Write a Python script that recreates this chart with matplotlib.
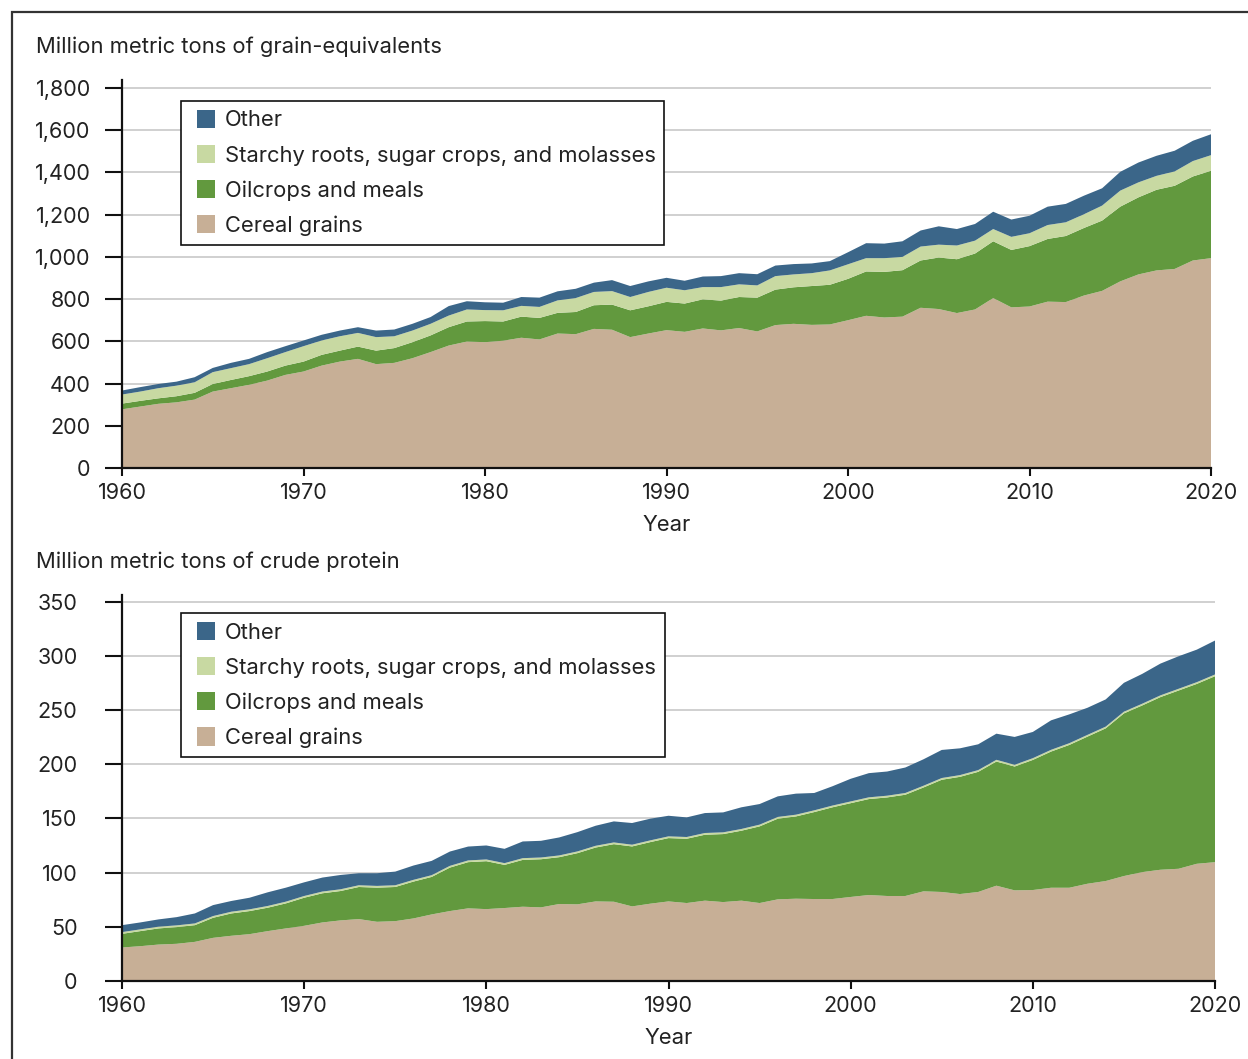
import numpy as np
import matplotlib
matplotlib.use("Agg")
import matplotlib.pyplot as plt
from matplotlib.patches import Patch, Rectangle
from matplotlib.legend_handler import HandlerPatch

plt.rcParams["font.family"] = ["Inter", "DejaVu Sans"]

years = list(range(1960, 2021))

# Grain-equivalents (million metric tons), per layer
grain_cereal = [278, 291, 304, 311, 324, 362, 378, 394, 414, 441,
                457, 485, 504, 517, 492, 498, 520, 549, 580, 599,
                596, 603, 617, 609, 637, 634, 659, 655, 620, 637,
                653, 645, 661, 652, 663, 647, 677, 683, 678, 680,
                700, 721, 713, 717, 759, 753, 734, 751, 805, 761,
                765, 788, 786, 817, 839, 884, 917, 936, 943, 983, 994]
grain_oil = [27, 27, 26, 29, 32, 36, 39, 41, 43, 44,
             47, 51, 52, 58, 64, 70, 76, 79, 87, 95,
             100, 91, 100, 102, 98, 105, 112, 119, 127, 129,
             134, 134, 138, 141, 147, 160, 168, 173, 184, 188,
             196, 210, 216, 220, 224, 244, 255, 265, 269, 272,
             286, 297, 313, 320, 333, 354, 365, 382, 394, 398, 414]
grain_starchy = [43, 44, 48, 50, 50, 56, 56, 57, 63, 64,
                 73, 68, 68, 65, 64, 56, 55, 55, 55, 57,
                 52, 53, 51, 52, 59, 66, 63, 64, 63, 68,
                 67, 63, 58, 64, 60, 58, 64, 61, 61, 68,
                 69, 63, 65, 63, 66, 61, 65, 61, 58, 62,
                 61, 66, 65, 65, 71, 76, 71, 66, 68, 73, 74]
grain_other = [19, 21, 20, 19, 24, 20, 25, 25, 29, 28,
               27, 27, 27, 27, 31, 32, 32, 32, 45, 39,
               37, 36, 42, 44, 43, 44, 44, 52, 52, 50,
               47, 45, 50, 52, 53, 53, 50, 49, 46, 44,
               57, 71, 69, 74, 76, 87, 78, 79, 82, 82,
               83, 87, 87, 88, 82, 89, 94, 95, 98, 96, 99]

# Crude protein (million metric tons), per layer
prot_cereal = [30.9, 32.1, 33.6, 34.3, 36.1, 39.8, 41.7, 43.2, 46.0, 48.5,
               50.9, 54.0, 55.9, 57.1, 54.6, 55.2, 57.7, 61.4, 64.5, 67.0,
               66.3, 67.3, 68.5, 67.9, 71.0, 70.7, 73.4, 73.1, 68.8, 71.3,
               73.4, 71.9, 74.1, 72.8, 74.1, 71.9, 75.3, 75.9, 75.6, 75.6,
               77.5, 79.3, 78.4, 78.4, 82.7, 82.1, 80.2, 82.1, 87.9, 83.6,
               83.9, 86.0, 86.0, 89.7, 92.2, 96.8, 100.4, 102.6, 103.5, 108.1, 109.6]
prot_oil = [12.6, 13.9, 14.9, 15.4, 15.4, 18.5, 20.6, 21.3, 21.6, 23.1,
            25.9, 26.9, 27.1, 29.6, 31.5, 31.5, 34.0, 34.6, 40.1, 42.6,
            44.2, 39.8, 43.2, 44.4, 43.2, 47.2, 49.7, 53.1, 55.3, 56.8,
            58.4, 59.3, 60.8, 62.7, 64.5, 70.7, 74.4, 75.9, 80.2, 84.6,
            86.5, 88.5, 90.9, 93.4, 95.8, 103.5, 108.1, 110.8, 114.5, 114.2,
            120.0, 125.6, 131.7, 135.7, 140.8, 150.0, 153.7, 159.2, 164.4, 165.9, 171.5]
prot_starchy = [1.6] * 61
prot_other = [6.4, 6.4, 6.7, 7.6, 9.2, 10.1, 9.9, 10.7, 12.6, 12.9,
              12.6, 12.9, 13.2, 11.1, 11.7, 12.6, 13.2, 13.2, 13.2, 12.8,
              12.9, 13.2, 15.4, 15.4, 16.6, 17.8, 18.5, 19.4, 20.0, 20.0,
              19.0, 18.1, 18.4, 18.4, 20.0, 19.0, 19.0, 19.4, 16.0, 17.8,
              20.9, 22.3, 22.3, 23.5, 24.4, 25.9, 24.7, 23.8, 24.1, 25.7,
              24.2, 27.2, 26.6, 25.0, 25.1, 26.6, 27.5, 29.3, 30.0, 30.0, 31.3]

labels = ["Cereal grains", "Oilcrops and meals",
          "Starchy roots, sugar crops, and molasses", "Other"]
colors = ["#c7af96", "#62993e", "#c8d9a2", "#3b6689"]

TXT = "#222222"
FS = 15.8
TICK_FS = 15.5


def _square(legend, orig_handle, xdescent, ydescent, width, height, fontsize):
    # kleines Quadrat, etwas nach rechts eingerückt
    s = 13.0
    return Rectangle((-xdescent + 5.5, -ydescent + (height - s) / 2), s, s)


def draw_panel(ax, series, ylim, yticks, ytick_pad, legend_anchor):
    for y in yticks:
        ax.axhline(y, color="#c8c8c8", linewidth=1.2, zorder=0)
    ax.stackplot(years, *series, colors=colors, linewidth=0, zorder=2)
    ax.set_xlim(1960, 2020)
    ax.set_ylim(*ylim)
    ax.set_xticks(range(1960, 2021, 10))
    ax.set_yticks(yticks)
    ax.set_yticklabels([f"{v:,}" for v in yticks])
    for s in ["top", "right"]:
        ax.spines[s].set_visible(False)
    for s in ["left", "bottom"]:
        ax.spines[s].set_linewidth(1.6)
        ax.spines[s].set_color("#111111")
        ax.spines[s].set_zorder(3)
    ax.tick_params(axis="y", length=12, width=1.5, pad=ytick_pad,
                   labelsize=TICK_FS, colors="#111111", labelcolor=TXT)
    ax.tick_params(axis="x", length=6, width=1.5, pad=5,
                   labelsize=TICK_FS, colors="#111111", labelcolor=TXT)
    ax.set_xlabel("Year", fontsize=FS, color=TXT, labelpad=8.5)
    handles = [Patch(facecolor=c, edgecolor="none", label=l)
               for c, l in zip(colors, labels)][::-1]
    leg = ax.legend(handles=handles, loc="upper left",
                    bbox_to_anchor=legend_anchor, borderaxespad=0,
                    fontsize=FS, frameon=True, fancybox=False,
                    handler_map={Patch: HandlerPatch(patch_func=_square)},
                    handlelength=1.2, handleheight=0.9, handletextpad=0.4,
                    labelspacing=0.66, borderpad=0.4, labelcolor=TXT)
    leg.get_frame().set_edgecolor("#111111")
    leg.get_frame().set_linewidth(1.2)
    leg.get_frame().set_alpha(1)


fig = plt.figure(figsize=(12.48, 10.59), dpi=100)

ax1 = fig.add_axes([122 / 1248, 1 - 468 / 1059, 1089 / 1248, 388 / 1059])
draw_panel(ax1, [grain_cereal, grain_oil, grain_starchy, grain_other],
           (0, 1838), list(range(0, 1801, 200)), 10.5, (0.054, 0.946))
fig.text(36 / 1248, 1 - 47 / 1059, "Million metric tons of grain-equivalents",
         fontsize=FS, color=TXT, ha="left", va="center")

ax2 = fig.add_axes([122 / 1248, 1 - 981 / 1059, 1093 / 1248, 386 / 1059])
draw_panel(ax2, [prot_cereal, prot_oil, prot_starchy, prot_other],
           (0, 356), list(range(0, 351, 50)), 20, (0.054, 0.953))
fig.text(36 / 1248, 1 - 562 / 1059, "Million metric tons of crude protein",
         fontsize=FS, color=TXT, ha="left", va="center")

# äußerer Rahmen, rechts und unten abgeschnitten
fig.add_artist(Rectangle((12 / 1248, -0.1), 1.2, 1 - 12 / 1059 + 0.1,
                         transform=fig.transFigure, fill=False,
                         edgecolor="#333333", linewidth=1.6))

fig.savefig("out.png", dpi=100)
